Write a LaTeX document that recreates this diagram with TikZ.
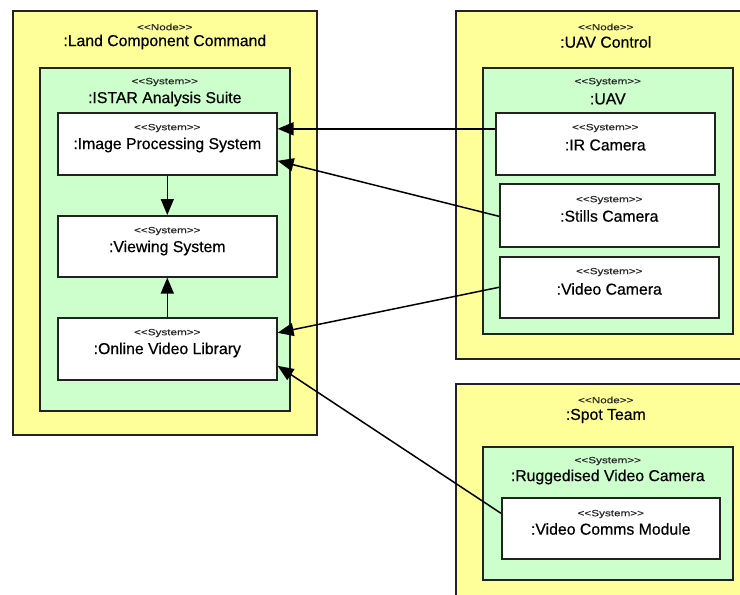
\documentclass[tikz,border=0pt]{standalone}
\usepackage{fontspec}
\usepackage{graphicx}
\setmainfont{Liberation Sans}
\newfontfamily\namefont[FakeBold=0.5]{Liberation Sans}
\newfontfamily\sterfont[FakeBold=0.3]{Liberation Sans}
\usetikzlibrary{arrows.meta}
\definecolor{nodey}{HTML}{FFFF99}
\definecolor{sysg}{HTML}{CCFFCC}
\definecolor{edge}{HTML}{222222}
\newcommand\sterTxt[1]{\scalebox{1.3}[1]{\sterfont\fontsize{9}{10}\selectfont #1}}
\tikzset{
  box/.style={draw=edge, line width=1.6pt, anchor=north west, inner sep=0pt},
  nodebox/.style={box, fill=nodey},
  sysbox/.style={box, fill=sysg},
  partbox/.style={box, fill=white},
  stereo/.style={inner sep=0pt, text=black!85},
  namelbl/.style={inner sep=0pt, font=\namefont\fontsize{15.8}{17}\selectfont, text=black},
  arr/.style={line width=1.5pt, draw=black, -{Triangle[length=16pt,width=13pt]}}
}
\begin{document}
\begin{tikzpicture}[x=1pt,y=-1pt]
\useasboundingbox (0,0) rectangle (740,595);
\clip (0,0) rectangle (740,595);
\fill[white] (0,0) rectangle (740,595);
% Land Component Command
\node[nodebox, minimum width=304pt, minimum height=424pt] (lcc) at (12,10) {};
\node[stereo] (lccs) at ([yshift=-17pt]lcc.north) {\sterTxt{{<}{<}Node{>}{>}}};
\node[namelbl] (lccn) at ([yshift=-32pt]lcc.north) {:Land Component Command};
\node[sysbox, minimum width=250pt, minimum height=343pt] (istar) at (39,67) {};
\node[stereo] (istars) at ([yshift=-15pt]istar.north) {\sterTxt{{<}{<}System{>}{>}}};
\node[namelbl] (istarn) at ([yshift=-32pt]istar.north) {:ISTAR Analysis Suite};
\node[partbox, minimum width=219pt, minimum height=62pt] (ips) at (57,112) {};
\node[stereo] (ipss) at ([yshift=-16pt]ips.north) {\sterTxt{{<}{<}System{>}{>}}};
\node[namelbl] (ipsn) at ([yshift=-33pt]ips.north) {:Image Processing System};
\node[partbox, minimum width=219pt, minimum height=61pt] (view) at (57,215) {};
\node[stereo] (views) at ([yshift=-16pt]view.north) {\sterTxt{{<}{<}System{>}{>}}};
\node[namelbl] (viewn) at ([yshift=-33pt]view.north) {:Viewing System};
\node[partbox, minimum width=219pt, minimum height=62pt] (ovl) at (57,317) {};
\node[stereo] (ovls) at ([yshift=-16pt]ovl.north) {\sterTxt{{<}{<}System{>}{>}}};
\node[namelbl] (ovln) at ([yshift=-33pt]ovl.north) {:Online Video Library};
% UAV Control
\node[nodebox, minimum width=300pt, minimum height=348pt] (uavc) at (455,10) {};
\node[stereo] (uavcs) at ([yshift=-17pt]uavc.north) {\sterTxt{{<}{<}Node{>}{>}}};
\node[namelbl] (uavcn) at ([yshift=-32pt]uavc.north) {:UAV Control};
\node[sysbox, minimum width=250pt, minimum height=266pt] (uav) at (482,67) {};
\node[stereo] (uavs) at ([yshift=-15pt]uav.north) {\sterTxt{{<}{<}System{>}{>}}};
\node[namelbl] (uavn) at ([yshift=-32pt]uav.north) {:UAV};
\node[partbox, minimum width=219pt, minimum height=62pt] (ir) at (495,112) {};
\node[stereo] (irs) at ([yshift=-16pt]ir.north) {\sterTxt{{<}{<}System{>}{>}}};
\node[namelbl] (irn) at ([yshift=-33pt]ir.north) {:IR Camera};
\node[partbox, minimum width=219pt, minimum height=63pt] (stills) at (499,183) {};
\node[stereo] (stillss) at ([yshift=-17pt]stills.north) {\sterTxt{{<}{<}System{>}{>}}};
\node[namelbl] (stillsn) at ([yshift=-33pt]stills.north) {:Stills Camera};
\node[partbox, minimum width=219pt, minimum height=61pt] (vcam) at (499,256) {};
\node[stereo] (vcams) at ([yshift=-16pt]vcam.north) {\sterTxt{{<}{<}System{>}{>}}};
\node[namelbl] (vcamn) at ([yshift=-33pt]vcam.north) {:Video Camera};
% Spot Team
\node[nodebox, minimum width=300pt, minimum height=230pt] (spot) at (455,383) {};
\node[stereo] (spots) at ([yshift=-17pt]spot.north) {\sterTxt{{<}{<}Node{>}{>}}};
\node[namelbl] (spotn) at ([yshift=-33pt]spot.north) {:Spot Team};
\node[sysbox, minimum width=250pt, minimum height=133pt] (rug) at (482,446) {};
\node[stereo] (rugs) at ([yshift=-15pt]rug.north) {\sterTxt{{<}{<}System{>}{>}}};
\node[namelbl] (rugn) at ([yshift=-31pt]rug.north) {:Ruggedised Video Camera};
\node[partbox, minimum width=218pt, minimum height=61pt] (vcm) at (501,497) {};
\node[stereo] (vcms) at ([yshift=-17pt]vcm.north) {\sterTxt{{<}{<}System{>}{>}}};
\node[namelbl] (vcmn) at ([yshift=-32pt]vcm.north) {:Video Comms Module};
% connectors
\draw[arr] (ips.south) -- (view.north);
\draw[arr] (ovl.north) -- (view.south);
\draw[arr] ([yshift=15pt]ir.west) -- ([yshift=15pt]ips.east);
\draw[arr] ([yshift=-1pt]stills.west) -- ([yshift=-17pt]ips.east);
\draw[arr] (vcam.west) -- ([yshift=16pt]ovl.east);
\draw[arr] ([yshift=15pt]vcm.west) -- ([yshift=-17pt]ovl.east);
\end{tikzpicture}
\end{document}
